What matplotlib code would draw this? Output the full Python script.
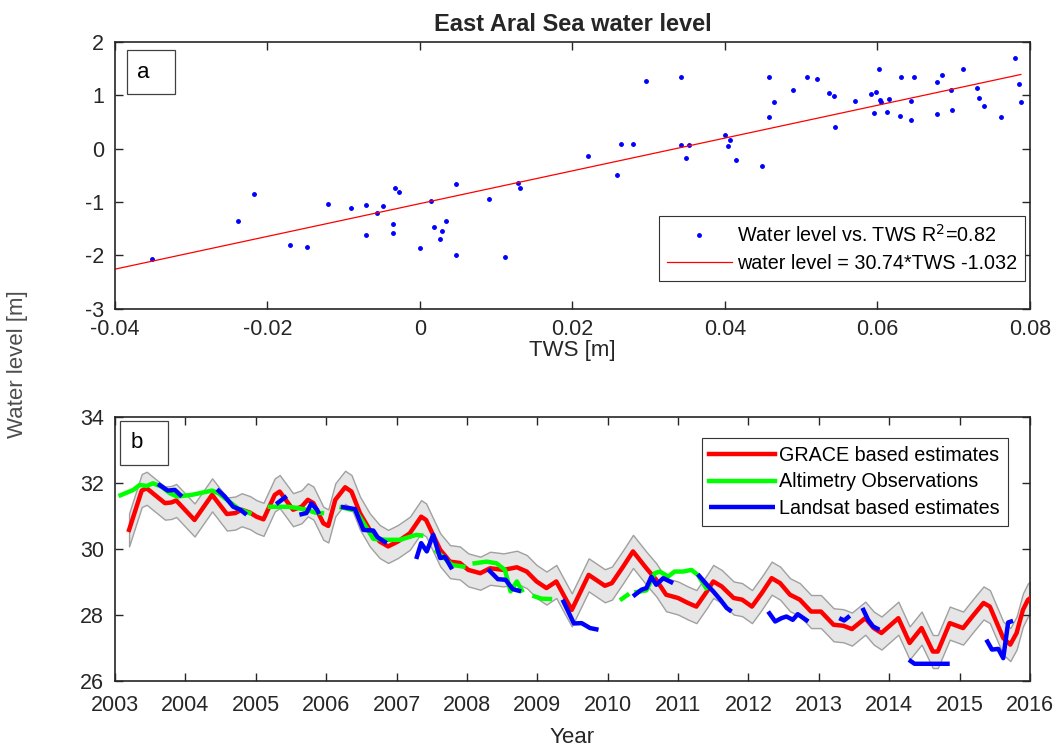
import numpy as np
import matplotlib
matplotlib.use('Agg')
import matplotlib.pyplot as plt
from matplotlib.patches import Rectangle

plt.rcParams['font.family'] = ['Liberation Sans', 'DejaVu Sans']
plt.rcParams['axes.unicode_minus'] = False

# panel a: TWS vs water level anomalies
tws = [-0.0352, -0.0239, -0.0218, -0.0170, -0.0148, -0.0120, -0.0091, -0.0071,
       -0.0071, -0.0057, -0.0048, -0.0035, -0.0036, -0.0033, -0.0028, 0.0000,
       0.0015, 0.0018, 0.0034, 0.0029, 0.0026, 0.0047, 0.0047, 0.0091, 0.0111,
       0.0128, 0.0131,
       0.0221, 0.0259, 0.0263, 0.0280, 0.0297, 0.0342, 0.0342, 0.0353, 0.0349,
       0.0400, 0.0407, 0.0404, 0.0414, 0.0449, 0.0458, 0.0458, 0.0464, 0.0489,
       0.0508, 0.0521, 0.0537, 0.0543, 0.0544, 0.0571, 0.0591, 0.0598, 0.0602,
       0.0596, 0.0603, 0.0605, 0.0615, 0.0613, 0.0629, 0.0631, 0.0644, 0.0644,
       0.0648, 0.0678, 0.0685, 0.0678, 0.0696, 0.0698, 0.0712, 0.0730, 0.0733,
       0.0740, 0.0762, 0.0781, 0.0786, 0.0788]
wl = [-2.08, -1.35, -0.85, -1.80, -1.85, -1.045, -1.12, -1.06,
      -1.62, -1.21, -1.08, -1.41, -1.58, -0.74, -0.81, -1.865,
      -0.98, -1.48, -1.35, -1.55, -1.70, -0.67, -2.00, -0.95, -2.04,
      -0.65, -0.74,
      -0.13, -0.50, 0.08, 0.09, 1.27, 1.34, 0.06, 0.06, -0.18,
      0.26, 0.16, 0.055, -0.22, -0.33, 1.35, 0.60, 0.88, 1.09,
      1.34, 1.31, 1.05, 0.99, 0.41, 0.90, 1.02, 1.07, 1.49,
      0.66, 0.91, 0.87, 0.925, 0.69, 0.62, 1.34, 0.89, 0.54,
      1.34, 1.24, 1.38, 0.64, 1.09, 0.72, 1.50, 1.14, 0.94,
      0.80, 0.59, 1.70, 1.22, 0.87]
fit_slope = 30.74
fit_icept = -1.032

# panel b: time series
grace_year = [2003.20, 2003.38, 2003.45, 2003.71, 2003.80, 2003.87, 2004.13, 2004.38,
              2004.59, 2004.71, 2004.80, 2004.92, 2005.01, 2005.11, 2005.27, 2005.34,
              2005.53, 2005.65, 2005.74, 2005.82, 2005.96, 2006.03, 2006.13, 2006.27,
              2006.36, 2006.48, 2006.62, 2006.76, 2006.88, 2007.02, 2007.19, 2007.35,
              2007.42, 2007.62, 2007.76, 2007.90, 2008.02, 2008.19, 2008.33, 2008.52,
              2008.71, 2008.85, 2008.99, 2009.13, 2009.27, 2009.41, 2009.49, 2009.73,
              2009.96, 2010.06, 2010.22, 2010.36, 2010.55, 2010.69, 2010.83, 2011.00,
              2011.14, 2011.26, 2011.41, 2011.50, 2011.62, 2011.79, 2011.91, 2012.05,
              2012.19, 2012.33, 2012.45, 2012.59, 2012.73, 2012.89, 2013.03, 2013.21,
              2013.35, 2013.47, 2013.66, 2013.78, 2013.89, 2014.13, 2014.29, 2014.46,
              2014.62, 2014.69, 2014.86, 2015.05, 2015.20, 2015.34, 2015.43, 2015.62,
              2015.72, 2015.81, 2015.90, 2015.97, 2016.00]
grace_level = [30.57, 31.76, 31.83, 31.38, 31.40, 31.46, 30.87, 31.63,
               31.05, 31.08, 31.18, 31.09, 30.97, 30.89, 31.63, 31.73,
               31.18, 31.27, 31.48, 31.38, 30.77, 30.69, 31.48, 31.86,
               31.73, 31.08, 30.57, 30.22, 30.07, 30.22, 30.47, 30.97,
               30.87, 29.97, 29.61, 29.57, 29.36, 29.26, 29.41, 29.36,
               29.44, 29.31, 29.01, 28.81, 29.01, 28.46, 28.15, 29.21,
               28.88, 28.96, 29.46, 29.92, 29.41, 29.06, 28.61, 28.51,
               28.36, 28.25, 28.71, 29.01, 28.86, 28.51, 28.46, 28.25,
               28.66, 29.11, 28.96, 28.61, 28.46, 28.10, 28.10, 27.70,
               27.67, 27.57, 27.90, 27.60, 27.45, 27.90, 27.15, 27.60,
               26.89, 26.89, 27.75, 27.60, 28.00, 28.36, 28.25, 27.30,
               27.10, 27.45, 28.15, 28.45, 28.50]
grace_err = 0.5

nan = np.nan
alt_year = [2003.08, 2003.26, 2003.35, 2003.45, 2003.54, 2003.66, 2003.78, 2003.88,
            2004.09, 2004.38, 2004.47, 2004.61, 2004.76, 2004.91, nan,
            2005.20, 2005.46, 2005.60, 2005.72, 2005.85, 2005.94, nan,
            2006.22, 2006.42, 2006.54, 2006.67, 2006.86, 2007.05, 2007.28, 2007.35, nan,
            2007.57, 2007.79, 2007.95, nan,
            2008.11, 2008.28, 2008.42, 2008.54, 2008.62, 2008.71, 2008.78, nan,
            2008.96, 2009.06, 2009.18, nan,
            2010.20, 2010.28, nan,
            2010.41, 2010.55, 2010.67, 2010.74, 2010.86, 2010.95, 2011.07, 2011.19,
            2011.28, 2011.40]
alt_level = [31.62, 31.78, 31.93, 31.90, 31.98, 31.88, 31.68, 31.58,
             31.63, 31.76, 31.68, 31.45, 31.20, 31.08, nan,
             31.27, 31.27, 31.23, 31.18, 31.09, 31.08, nan,
             31.25, 31.15, 30.75, 30.30, 30.27, 30.27, 30.42, 30.40, nan,
             29.92, 29.51, 29.46, nan,
             29.56, 29.61, 29.56, 29.36, 28.71, 29.01, 28.74, nan,
             28.56, 28.49, 28.48, nan,
             28.48, 28.60, nan,
             28.69, 28.74, 29.26, 29.31, 29.16, 29.31, 29.31, 29.36,
             29.21, 28.81]

landsat_year = [2003.61, 2003.75, 2003.85, 2003.95, nan,
                2004.45, 2004.56, 2004.68, 2004.78, 2004.87, nan,
                2005.29, 2005.37, 2005.44, nan,
                2005.62, 2005.72, 2005.79, 2005.87, 2005.90, nan,
                2006.21, 2006.41, 2006.53, 2006.67, 2006.73, 2006.86, nan,
                2007.28, 2007.35, 2007.43, 2007.52, 2007.62, 2007.69, 2007.79, nan,
                2008.30, 2008.44, 2008.55, 2008.65, 2008.77, nan,
                2009.36, 2009.52, 2009.63, 2009.75, 2009.87, nan,
                2010.36, 2010.48, 2010.55, 2010.62, 2010.69, 2010.79, 2010.93, nan,
                2011.28, 2011.41, 2011.50, 2011.60, 2011.69, 2011.76, nan,
                2012.28, 2012.38, 2012.47, 2012.54, 2012.63, 2012.70, 2012.85, nan,
                2013.29, 2013.36, 2013.44, nan,
                2013.62, 2013.70, 2013.77, 2013.86, nan,
                2014.28, 2014.36, 2014.86, nan,
                2015.38, 2015.46, 2015.55, 2015.62, 2015.69, 2015.76]
landsat_level = [31.96, 31.76, 31.78, 31.58, nan,
                 31.80, 31.58, 31.27, 31.18, 31.03, nan,
                 31.35, 31.48, 31.59, nan,
                 31.03, 31.08, 31.37, 31.18, 31.05, nan,
                 31.27, 31.20, 30.57, 30.55, 30.35, 30.17, nan,
                 29.69, 30.17, 29.92, 30.42, 29.72, 29.75, 29.38, nan,
                 29.38, 29.08, 29.06, 28.78, 28.71, nan,
                 28.46, 27.74, 27.75, 27.60, 27.55, nan,
                 28.56, 28.76, 28.81, 29.15, 28.91, 29.11, 28.96, nan,
                 29.23, 28.91, 28.71, 28.46, 28.21, 28.10, nan,
                 28.10, 27.80, 27.90, 27.95, 27.85, 28.02, 27.80, nan,
                 27.90, 27.83, 27.97, nan,
                 28.21, 27.85, 27.65, 27.55, nan,
                 26.64, 26.52, 26.52, nan,
                 27.25, 26.95, 26.97, 26.69, 27.77, 27.82]

txt = '#262626'
fig = plt.figure(figsize=(10.54, 7.47), dpi=100)
ax1 = fig.add_axes([0.1091, 0.5870, 0.8681, 0.3568])
ax2 = fig.add_axes([0.1091, 0.0884, 0.8681, 0.3540])


def style(ax, xpad):
    ax.tick_params(direction='in', top=True, right=True, length=6, width=1,
                   labelsize=15.5, colors=txt)
    ax.tick_params(axis='x', pad=xpad)
    ax.tick_params(axis='y', pad=8)
    for s in ax.spines.values():
        s.set_linewidth(1.2)
        s.set_color(txt)


# --- panel a
xs = np.array(tws)
xl = np.array([-0.04, xs.max()])
ax1.plot(tws, wl, '.', color='#0000ff', markersize=5,
         label='Water level vs. TWS R$^2$=0.82')
ax1.plot(xl, fit_slope * xl + fit_icept, color='#ff0000', lw=0.9,
         label='water level = 30.74*TWS -1.032')
ax1.set_xlim(-0.04, 0.08)
ax1.set_ylim(-3, 2)
ax1.set_xticks(np.arange(-0.04, 0.081, 0.02))
ax1.set_xticklabels(['-0.04', '-0.02', '0', '0.02', '0.04', '0.06', '0.08'])
ax1.set_yticks(range(-3, 3))
style(ax1, 7.5)
ax1.set_xlabel('TWS [m]', fontsize=16, color=txt, labelpad=0)
ax1.set_title('East Aral Sea water level', fontsize=17, fontweight='bold',
              color=txt, pad=8)
leg1 = ax1.legend(loc='lower right', bbox_to_anchor=(0.9945, 0.104),
                  fontsize=14.2, fancybox=False, edgecolor='#333333',
                  framealpha=1, handlelength=3.3, borderpad=0.4,
                  labelspacing=0.4, handletextpad=0.25, borderaxespad=0)
leg1.get_frame().set_linewidth(0.8)
ax1.add_patch(Rectangle((0.0128, 0.804), 0.0528, 0.166, transform=ax1.transAxes,
                        fill=False, edgecolor='#404040', lw=0.9))
ax1.text(0.031, 0.887, 'a', transform=ax1.transAxes, fontsize=16,
         va='center', ha='center', color='black')

# --- panel b
gy = np.array(grace_year)
gl = np.array(grace_level)
ax2.fill_between(gy, gl - grace_err, gl + grace_err, facecolor='#e6e6e6',
                 edgecolor='#a0a0a0', lw=1.0, zorder=1)
ax2.plot(grace_year, grace_level, color='#ff0000', lw=3.2,
         label='GRACE based estimates', zorder=3)
ax2.plot(alt_year, alt_level, color='#00ff00', lw=3.2,
         label='Altimetry Observations', zorder=4)
ax2.plot(landsat_year, landsat_level, color='#0000ff', lw=3.2,
         label='Landsat based estimates', zorder=5, solid_capstyle='butt')
ax2.set_xlim(2003, 2016)
ax2.set_ylim(26, 34)
ax2.set_xticks(range(2003, 2017))
ax2.set_yticks(range(26, 35, 2))
style(ax2, 10)
ax2.set_xlabel('Year', fontsize=16, color=txt, labelpad=8)
leg2 = ax2.legend(loc='upper right', bbox_to_anchor=(0.976, 0.920),
                  fontsize=14.2, fancybox=False, edgecolor='#333333',
                  framealpha=1, handlelength=3.3, borderpad=0.4,
                  labelspacing=0.4, handletextpad=0.25, borderaxespad=0)
leg2.get_frame().set_linewidth(0.8)
ax2.add_patch(Rectangle((0.0055, 0.817), 0.0528, 0.167, transform=ax2.transAxes,
                        fill=False, edgecolor='#404040', lw=0.9, zorder=6))
ax2.text(0.024, 0.90, 'b', transform=ax2.transAxes, fontsize=16,
         va='center', ha='center', color='black', zorder=6)

fig.text(0.017, 0.513, 'Water level [m]', rotation=90, fontsize=16,
         color='#4d4d4d', va='center', ha='center')

fig.savefig('out.png', dpi=100)
